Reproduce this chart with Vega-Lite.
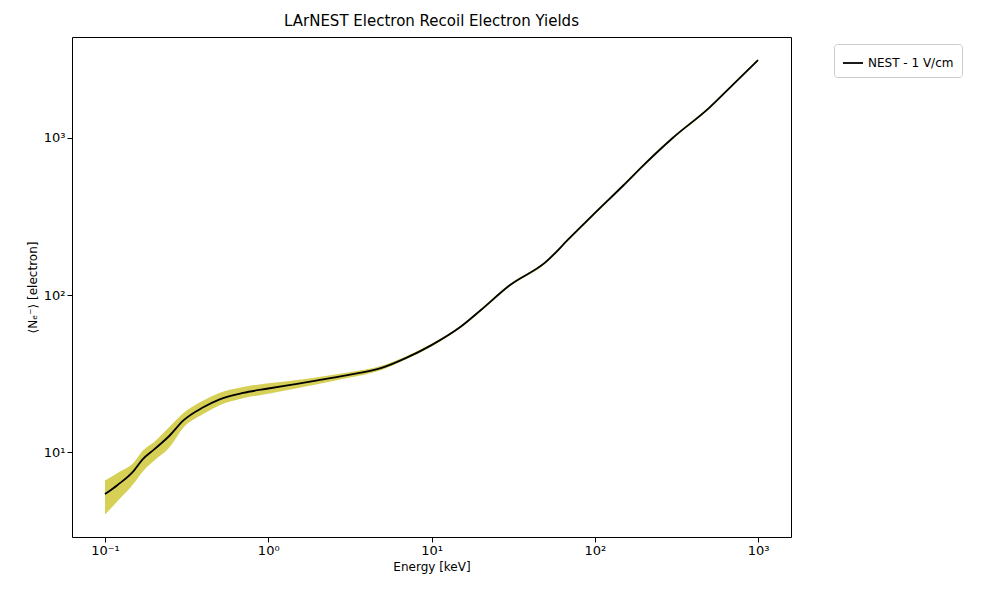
{
  "$schema": "https://vega.github.io/schema/vega-lite/v6.json",
  "width": 719, "height": 500,
  "autosize": "none",
  "padding": {"left": 72, "top": 37, "right": 209, "bottom": 63},
  "background": "white",
  "title": {"text": "LArNEST Electron Recoil Electron Yields", "fontSize": 15, "fontWeight": "normal", "font": "DejaVu Sans", "offset": 8},
  "config": {"view": {"stroke": "black"}, "axis": {"labelFont": "DejaVu Sans", "titleFont": "DejaVu Sans", "labelFontSize": 13, "titleFontSize": 12, "titleFontWeight": "normal", "grid": false, "domain": false, "tickColor": "black", "labelColor": "black", "tickSize": 5}},
  "data": {"values": [
    {"E": 0.1, "lo": 4.0, "mid": 5.4, "hi": 6.6},
    {"E": 0.12, "lo": 4.9, "mid": 6.2, "hi": 7.4},
    {"E": 0.15, "lo": 6.3, "mid": 7.6, "hi": 8.6},
    {"E": 0.17, "lo": 7.5, "mid": 9.0, "hi": 10.2},
    {"E": 0.2, "lo": 8.8, "mid": 10.4, "hi": 11.6},
    {"E": 0.25, "lo": 10.8, "mid": 12.8, "hi": 14.6},
    {"E": 0.3, "lo": 14.2, "mid": 15.8, "hi": 17.6},
    {"E": 0.4, "lo": 17.5, "mid": 19.3, "hi": 21.3},
    {"E": 0.5, "lo": 19.8, "mid": 21.6, "hi": 23.8},
    {"E": 0.7, "lo": 22.0, "mid": 23.8, "hi": 26.0},
    {"E": 1, "lo": 23.5, "mid": 25.4, "hi": 27.4},
    {"E": 1.5, "lo": 25.5, "mid": 27.2, "hi": 28.8},
    {"E": 2, "lo": 27.0, "mid": 28.6, "hi": 30.0},
    {"E": 3, "lo": 29.5, "mid": 30.8, "hi": 32.0},
    {"E": 5, "lo": 33.5, "mid": 34.5, "hi": 35.6},
    {"E": 7, "lo": 39.0, "mid": 39.8, "hi": 40.8},
    {"E": 10, "lo": 47.0, "mid": 48.0, "hi": 49.0},
    {"E": 15, "lo": 61.5, "mid": 62.5, "hi": 63.5},
    {"E": 20, "lo": 78.5, "mid": 80, "hi": 81.5},
    {"E": 30, "lo": 113, "mid": 115, "hi": 117},
    {"E": 50, "lo": 159, "mid": 162, "hi": 165},
    {"E": 70, "lo": 226, "mid": 230, "hi": 234},
    {"E": 100, "lo": 326, "mid": 332, "hi": 338},
    {"E": 150, "lo": 491, "mid": 500, "hi": 509},
    {"E": 200, "lo": 663, "mid": 675, "hi": 687},
    {"E": 300, "lo": 982, "mid": 1000, "hi": 1018},
    {"E": 500, "lo": 1525, "mid": 1550, "hi": 1575},
    {"E": 700, "lo": 2145, "mid": 2180, "hi": 2215},
    {"E": 1000, "lo": 3080, "mid": 3130, "hi": 3180}
  ]},
  "layer": [
    {"mark": {"type": "area", "color": "#cfc83a", "opacity": 0.85, "interpolate": "monotone"},
     "encoding": {
       "x": {"field": "E", "type": "quantitative", "scale": {"type": "log", "domain": [0.0628, 1592], "nice": false}, "title": "Energy [keV]",
             "axis": {"values": [0.1, 1, 10, 100, 1000], "labelExpr": "datum.value < 0.5 ? '10⁻¹' : datum.value < 5 ? '10⁰' : datum.value < 50 ? '10¹' : datum.value < 500 ? '10²' : '10³'"}},
       "y": {"field": "lo", "type": "quantitative", "scale": {"type": "log", "domain": [2.88, 4395], "nice": false}, "title": "⟨Nₑ⁻⟩ [electron]",
             "axis": {"values": [10, 100, 1000], "labelExpr": "datum.value < 50 ? '10¹' : datum.value < 500 ? '10²' : '10³'"}},
       "y2": {"field": "hi"}
     }},
    {"mark": {"type": "line", "strokeWidth": 1.8, "interpolate": "monotone"},
     "encoding": {
       "x": {"field": "E", "type": "quantitative"},
       "y": {"field": "mid", "type": "quantitative"},
       "color": {"datum": "NEST - 1 V/cm", "scale": {"range": ["black"]},
                 "legend": {"title": null, "orient": "none", "legendX": 762, "legendY": 7, "labelFont": "DejaVu Sans", "labelFontSize": 12, "symbolType": "stroke", "symbolSize": 400, "symbolStrokeWidth": 1.8, "strokeColor": "#cccccc", "padding": 8, "cornerRadius": 3}}
     }}
  ]
}
